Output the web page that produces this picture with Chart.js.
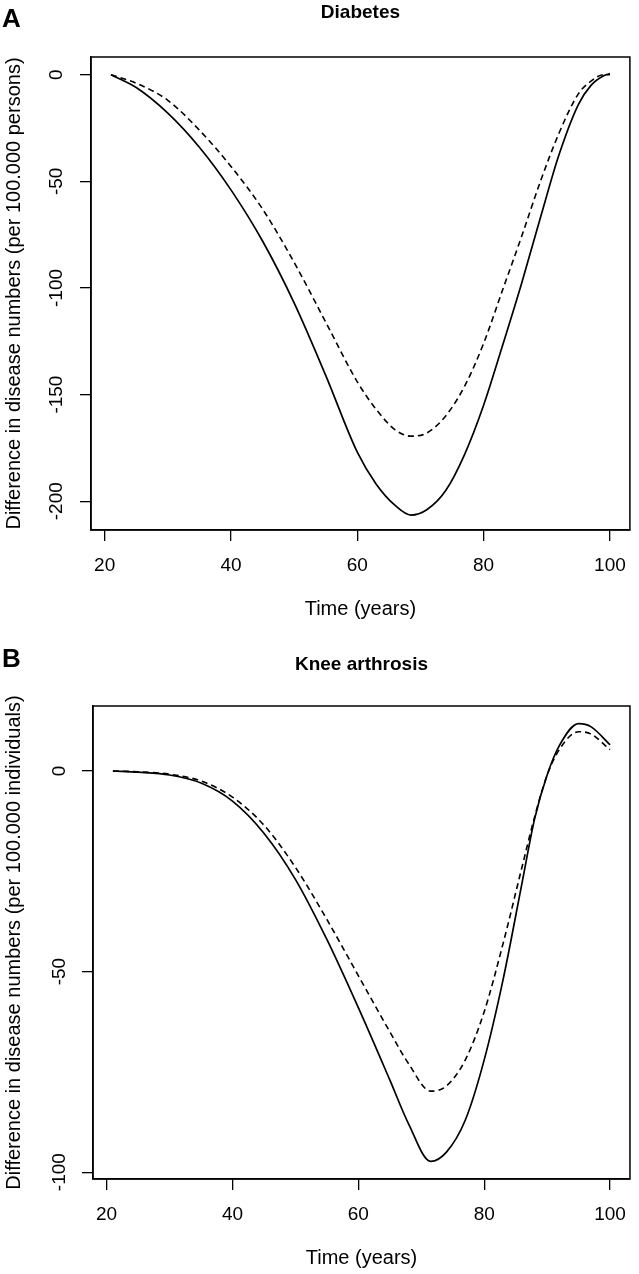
<!DOCTYPE html>
<html>
<head>
<meta charset="utf-8">
<script src="https://cdn.jsdelivr.net/npm/chart.js@4.4.1/dist/chart.umd.min.js"></script>
<style>
  body { margin: 0; background: #fff; }
  .panel { position: absolute; left: 0; width: 639px; height: 637px; }
</style>
</head>
<body>
<div class="panel" style="top:0"><canvas id="chartA"></canvas></div>
<div class="panel" style="top:637px"><canvas id="chartB"></canvas></div>
<script>
// -------------------- DATA --------------------
const xTicks = [20, 40, 60, 80, 100];

// Panel A: diabetes
const agesA = [21, 25, 30, 35, 40, 45, 50, 55, 60, 63, 66, 68.5, 71, 74, 77, 80, 83, 86, 89, 92, 95, 97, 99, 100];
const diabetesSolid = [0, -6, -18, -34, -54, -78, -107, -141, -177, -192, -202, -206.5, -204, -195, -178, -155, -127, -98, -67, -37, -14, -5, -0.5, 0.5];
const diabetesDashed = [0, -4, -12, -26, -43, -63, -88, -116, -144, -157, -166.5, -169.5, -168, -160, -146, -126, -101, -76, -50, -27, -9, -3, 0, 0];
const yTicksA = [0, -50, -100, -150, -200];

// Panel B: knee arthrosis
const agesB = [21, 25, 30, 35, 40, 45, 50, 55, 60, 65, 68, 71.5, 74, 77, 80, 83, 86, 88, 90, 92, 95, 97, 100];
const kneeSolid = [0, -0.3, -1, -3, -7.5, -15.5, -27, -42, -59, -77, -88, -97.3, -95, -87, -72, -52, -28, -12, -1, 6.5, 11.8, 11, 6.5];
const kneeDashed = [0, -0.2, -0.8, -2.5, -6.5, -13.5, -24, -37, -51, -65, -73, -79.8, -78.5, -72, -60, -43, -24, -11.5, -1, 5.5, 9.8, 9.2, 5.3];
const yTicksB = [0, -50, -100];

const FONT = '"Liberation Sans", Arial, sans-serif';

// -------------------- FRAME, LABELS, TITLES --------------------
const framePlugin = {
  id: 'frame',
  afterDraw(chart, args, opts) {
    const ctx = chart.ctx;
    const a = chart.chartArea;
    ctx.save();
    ctx.strokeStyle = '#000';
    ctx.lineWidth = 1.5;
    ctx.strokeRect(a.left, a.top, a.right - a.left, a.bottom - a.top);

    // y tick labels, rotated like R
    ctx.fillStyle = '#000';
    ctx.font = '19px ' + FONT;
    ctx.textAlign = 'center';
    ctx.textBaseline = 'middle';
    opts.yTicks.forEach(v => {
      const y = chart.scales.y.getPixelForValue(v);
      ctx.save();
      ctx.translate(opts.yLabelX, y);
      ctx.rotate(-Math.PI / 2);
      ctx.fillText(String(v), 0, 0);
      ctx.restore();
    });

    // panel letter
    ctx.textAlign = 'left';
    ctx.textBaseline = 'alphabetic';
    ctx.font = 'bold 26px ' + FONT;
    ctx.fillText(opts.letter, 2, opts.letterY);

    // title
    ctx.textAlign = 'center';
    ctx.font = 'bold 19px ' + FONT;
    ctx.fillText(opts.title, (a.left + a.right) / 2, opts.titleY);
    ctx.restore();
  }
};

function makePanel(id, p) {
  const pts = (xs, ys) => xs.map((x, i) => ({ x: x, y: ys[i] }));
  new Chart(document.getElementById(id), {
    type: 'line',
    data: {
      datasets: [
        { data: pts(p.ages, p.solid), borderColor: '#000', borderWidth: 1.7, pointRadius: 0, cubicInterpolationMode: 'monotone', fill: false },
        { data: pts(p.ages, p.dashed), borderColor: '#000', borderWidth: 1.6, borderDash: [6, 4], pointRadius: 0, cubicInterpolationMode: 'monotone', fill: false }
      ]
    },
    options: {
      responsive: true,
      maintainAspectRatio: false,
      animation: false,
      layout: { padding: { top: p.top, right: p.right, left: 0, bottom: 0 } },
      plugins: {
        legend: { display: false },
        tooltip: { enabled: false },
        frame: { yTicks: p.yTicks, yLabelX: p.yLabelX, letter: p.letter, letterY: p.letterY, title: p.title, titleY: p.titleY }
      },
      scales: {
        x: {
          type: 'linear',
          min: 17.84,
          max: 103.16,
          afterBuildTicks: ax => { ax.ticks = xTicks.map(v => ({ value: v })); },
          afterFit: ax => { ax.height = p.xAxisH; },
          grid: { drawOnChartArea: false, drawTicks: true, tickLength: 11, color: '#000', lineWidth: 1.3 },
          border: { display: true, color: '#000', width: 1.5 },
          ticks: { color: '#000', font: { family: FONT, size: 19 }, padding: 13, maxRotation: 0 },
          title: { display: true, text: 'Time (years)', color: '#000', font: { family: FONT, size: 20 }, padding: { bottom: p.xTitlePad } }
        },
        y: {
          type: 'linear',
          min: p.yMin,
          max: p.yMax,
          afterBuildTicks: ax => { ax.ticks = p.yTicks.map(v => ({ value: v })); },
          afterFit: ax => { ax.width = p.yAxisW; },
          grid: { drawOnChartArea: false, drawTicks: true, tickLength: 11, color: '#000', lineWidth: 1.3 },
          border: { display: true, color: '#000', width: 1.5 },
          ticks: { display: false },
          title: { display: true, text: p.yTitle, color: '#000', font: { family: FONT, size: 20 }, padding: { top: 2 } }
        }
      }
    },
    plugins: [framePlugin]
  });
}

makePanel('chartA', {
  ages: agesA, solid: diabetesSolid, dashed: diabetesDashed, yTicks: yTicksA,
  yMin: -213.5, yMax: 8.3, top: 57, right: 6, yAxisW: 91, xAxisH: 107, xTitlePad: 16,
  yLabelX: 57, letter: 'A', letterY: 27, title: 'Diabetes', titleY: 18,
  yTitle: 'Difference in disease numbers (per 100.000 persons)'
});

makePanel('chartB', {
  ages: agesB, solid: kneeSolid, dashed: kneeDashed, yTicks: yTicksB,
  yMin: -101.7, yMax: 16.2, top: 69, right: 2, yAxisW: 93, xAxisH: 95, xTitlePad: 4,
  yLabelX: 60, letter: 'B', letterY: 30, title: 'Knee arthrosis', titleY: 33,
  yTitle: 'Difference in disease numbers (per 100.000 individuals)'
});
</script>
</body>
</html>
